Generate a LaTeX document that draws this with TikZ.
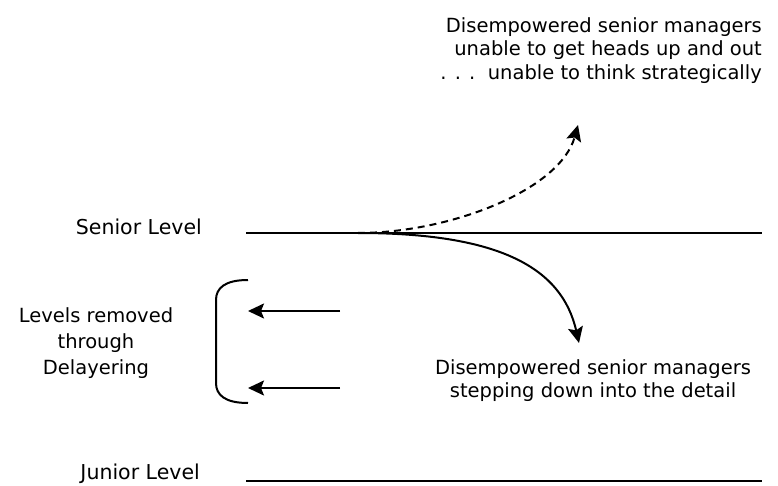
\documentclass[tikz,border=0pt]{standalone}
\usepackage{fontspec}
\setmainfont{DejaVu Sans}
\usetikzlibrary{arrows.meta,positioning}

\begin{document}
\begin{tikzpicture}[
  x=1pt, y=-1pt,
  font=\fontsize{19.5}{23.5}\selectfont,
  >={Stealth[length=16pt,width=15pt,inset=3pt]},
  level/.style={line width=2pt},
  lvltext/.style={inner sep=0pt, anchor=base east, font=\fontsize{20.5}{24}\selectfont},
  note/.style={inner sep=0pt, align=center},
  move/.style={->, line width=2pt},
  ghost/.style={->, line width=2pt, dash pattern=on 7pt off 5pt}
]
\useasboundingbox (0,0) rectangle (778,486);

% level lines
\node[lvltext] (sen) at (202,234) {Senior Level};
\node[lvltext] (jun) at (200,479) {Junior Level};
\coordinate (senL) at (246,233);
\coordinate (senR) at (762,233);
\coordinate (junL) at (246,481);
\coordinate (junR) at (762,481);
\draw[level] (senL) -- (senR);
\draw[level] (junL) -- (junR);

% outcomes of the split
\coordinate (split) at (358,233);
\coordinate (upTip) at (578,125);
\coordinate (downTip) at (579,343);
\node[note, align=right, anchor=north east] (upTxt) at (762,17)
  {Disempowered senior managers\\unable to get heads up and out\\. . .\ \ unable to think strategically};
\node[note, anchor=north] (downTxt) at (593,359)
  {Disempowered senior managers\\stepping down into the detail};
\draw[ghost] (split) .. controls (450,233) and (560,190) .. (upTip);
\draw[move] (split) .. controls (500,233) and (562,268) .. (downTip);

% removed levels
\node[note, anchor=north, font=\fontsize{19.5}{26}\selectfont] (gone) at (96,307)
  {Levels removed\\through\\Delayering};
\coordinate (brTop) at (248,280);
\coordinate (brBot) at (248,403);
\draw[line width=2pt] (brTop) .. controls (225,280) and (216,288) .. (216,300)
  -- (216,383) .. controls (216,395) and (225,403) .. (brBot);
\coordinate (rmA) at (340,311);
\coordinate (rmB) at (340,388);
\draw[move] (rmA) -- (248,311);
\draw[move] (rmB) -- (248,388);
\end{tikzpicture}
\end{document}
